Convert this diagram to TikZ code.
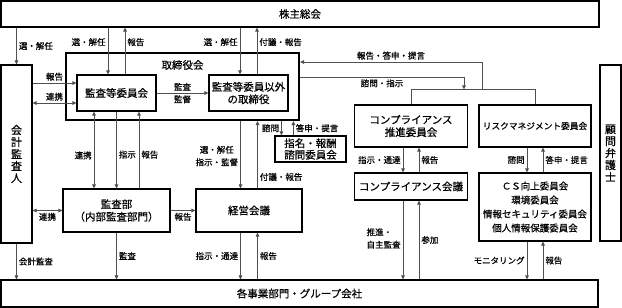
\documentclass[tikz,border=0pt]{standalone}
\usepackage{fontspec}
\setmainfont{Noto Sans CJK JP}[FakeBold=0.6]
\usetikzlibrary{calc,arrows.meta}
\definecolor{lineGray}{RGB}{80,80,80}
\newcommand{\BoxFont}{\fontsize{10.5}{12.5}\selectfont}
\newcommand{\TagFont}{\fontsize{8.5}{12.5}\selectfont}
\newcommand{\VertFont}{\fontsize{11}{12}\selectfont}
\tikzset{
  orgBox/.style={draw=black,line width=1.2pt,fill=white,inner sep=1pt,align=center,font=\BoxFont},
  tagText/.style={inner sep=2pt,font=\TagFont},
  plainLink/.style={draw=lineGray,line width=0.8pt},
  link/.style={plainLink,arrows={-Triangle[length=4pt,width=3.6pt]}},
  linkBoth/.style={plainLink,arrows={Triangle[length=4pt,width=3.6pt]-Triangle[length=4pt,width=3.6pt]}}
}

\begin{document}
\begin{tikzpicture}[x=1pt,y=-1pt]
\useasboundingbox (0,0) rectangle (622,308);
% outer boxes
\node[orgBox,minimum width=598pt,minimum height=26pt] (soukai) at (300,14) {株主総会};
\node[orgBox,minimum width=597pt,minimum height=27pt] (jigyo) at (299.5,293.5) {各事業部門・グループ会社};
\node[orgBox,minimum width=31pt,minimum height=178pt,font=\VertFont] (kaikei) at (16.5,154) {会\\計\\監\\査\\人};
\node[orgBox,minimum width=21pt,minimum height=176pt,font=\VertFont] (komon) at (610.5,153) {顧\\問\\弁\\護\\士};
% board
\node[orgBox,line width=2pt,minimum width=233pt,minimum height=67pt,
  label={[font=\BoxFont,anchor=center,yshift=-13pt]north:取締役会}] (torishimari) at (182.5,86.5) {};
\node[orgBox,minimum width=79pt,minimum height=36pt] (kansaiin) at (116.5,93) {監査等委員会};
\node[orgBox,minimum width=79pt,minimum height=36pt] (igai) at (248.5,93) {監査等委員以外\\の取締役};
\node[orgBox,minimum width=107pt,minimum height=43pt] (kansabu) at (116.5,210.5) {監査部\\（内部監査部門）};
\node[orgBox,minimum width=106pt,minimum height=43pt] (keiei) at (249,210.5) {経営会議};
\node[orgBox,minimum width=71pt,minimum height=26pt,font=\fontsize{10.5}{11.5}\selectfont] (shimei) at (310.5,149) {指名・報酬\\諮問委員会};
% committees
\node[orgBox,minimum width=113pt,minimum height=42pt] (suishin) at (411,126) {コンプライアンス\\推進委員会};
\node[orgBox,minimum width=112pt,minimum height=42pt,font=\fontsize{8.7}{12}\selectfont] (risk) at (535,126) {リスクマネジメント委員会};
\node[orgBox,minimum width=113pt,minimum height=27pt] (compkaigi) at (411,186.5) {コンプライアンス会議};
\node[orgBox,minimum width=112pt,minimum height=68pt,font=\fontsize{9.5}{14}\selectfont] (cs) at (535,207) {ＣＳ向上委員会\\環境委員会\\情報セキュリティ委員会\\個人情報保護委員会};

% shareholders meeting
\draw[link] (kaikei.north |- soukai.south) -- node[tagText,right]{選・解任} (kaikei.north);
\draw[link] ([xshift=-8.5pt]kansaiin.north |- soukai.south) -- node[tagText,left,pos=0.31]{選・解任} ([xshift=-8.5pt]kansaiin.north);
\draw[link] ([xshift=8.5pt]kansaiin.north) -- node[tagText,right,pos=0.69]{報告} ([xshift=8.5pt]kansaiin.north |- soukai.south);
\draw[link] ([xshift=-8.5pt]igai.north |- soukai.south) -- node[tagText,left,pos=0.31]{選・解任} ([xshift=-8.5pt]igai.north);
\draw[link] ([xshift=8.5pt]igai.north) -- node[tagText,right,pos=0.69]{付議・報告} ([xshift=8.5pt]igai.north |- soukai.south);

% auditor and audit committee
\draw[link] ([yshift=10pt]kaikei.east |- kansaiin.west) -- node[tagText,above]{報告} ([yshift=10pt]kansaiin.west);
\draw[linkBoth] ([yshift=-10pt]kaikei.east |- kansaiin.west) -- node[tagText,above]{連携} ([yshift=-10pt]kansaiin.west);
\draw[link] (kansaiin) -- node[tagText,above]{監査} node[tagText,below]{監督} (igai);

% audit dept
\draw[linkBoth] ([xshift=-22.5pt]kansaiin.south) -- node[tagText,left,pos=0.57]{連携} ([xshift=-22.5pt]kansabu.north);
\draw[link] (kansaiin.south) -- node[tagText,right,pos=0.56]{指示} (kansabu.north);
\draw[link] ([xshift=22.5pt]kansabu.north) -- node[tagText,right,pos=0.44]{報告} ([xshift=22.5pt]kansaiin.south);
\draw[linkBoth] (kaikei.east |- kansabu.west) -- node[tagText,below]{連携} (kansabu.west);
\draw[link] (kansabu) -- node[tagText,below]{報告} (keiei);

% management meeting
\draw[link] ([xshift=-8.5pt]keiei.north |- torishimari.south) -- node[tagText,left,align=center,pos=0.52]{選・解任\\指示・監督} ([xshift=-8.5pt]keiei.north);
\draw[link] ([xshift=8.5pt]keiei.north) -- node[tagText,right,pos=0.17]{付議・報告} ([xshift=8.5pt]keiei.north |- torishimari.south);

% nomination committee
\draw[link] ([xshift=7pt]shimei.north west |- torishimari.south) -- node[tagText,left]{諮問} ([xshift=7pt]shimei.north west);
\draw[link] ([xshift=19pt]shimei.north west) -- node[tagText,right]{答申・提言} ([xshift=19pt]shimei.north west |- torishimari.south);

% compliance and risk
\coordinate (joinL) at ([yshift=15pt]suishin.north);
\coordinate (joinR) at ([yshift=15pt]risk.north);
\coordinate (joinMid) at ($(joinL)!0.5!(joinR)$);
\draw[plainLink] (suishin.north) -- (joinL) -- (joinR) -- (risk.north);
\draw[link] ([xshift=9pt]joinMid) |- node[tagText,above,pos=0.75]{報告・答申・提言} ([yshift=24.5pt]torishimari.east);
\draw[link] ([yshift=9.5pt]torishimari.east) -| node[tagText,below,pos=0.25]{諮問・指示} ([xshift=-9pt]joinMid);
\draw[link] ([xshift=-8pt]suishin.south) -- node[tagText,left]{指示・通達} ([xshift=-8pt]compkaigi.north);
\draw[link] ([xshift=8pt]compkaigi.north) -- node[tagText,right]{報告} ([xshift=8pt]suishin.south);
\draw[link] ([xshift=-8pt]risk.south) -- node[tagText,left]{諮問} ([xshift=-8pt]cs.north);
\draw[link] ([xshift=8pt]cs.north) -- node[tagText,right]{答申・提言} ([xshift=8pt]risk.south);

% business units
\draw[link] (kaikei.south) -- node[tagText,right]{会計監査} (kaikei.south |- jigyo.north);
\draw[link] (kansabu.south) -- node[tagText,right]{監査} (kansabu.south |- jigyo.north);
\draw[link] ([xshift=-8.5pt]keiei.south) -- node[tagText,left]{指示・通達} ([xshift=-8.5pt]keiei.south |- jigyo.north);
\draw[link] ([xshift=8.5pt]keiei.south |- jigyo.north) -- node[tagText,right]{報告} ([xshift=8.5pt]keiei.south);
\draw[link] ([xshift=-8pt]compkaigi.south) -- node[tagText,left,align=left,pos=0.48]{推進・\\自主監査} ([xshift=-8pt]compkaigi.south |- jigyo.north);
\draw[link] ([xshift=8pt]compkaigi.south |- jigyo.north) -- node[tagText,right]{参加} ([xshift=8pt]compkaigi.south);
\draw[link] ([xshift=-8pt]cs.south) -- node[tagText,left]{モニタリング} ([xshift=-8pt]cs.south |- jigyo.north);
\draw[link] ([xshift=8pt]cs.south |- jigyo.north) -- node[tagText,right]{報告} ([xshift=8pt]cs.south);
\end{tikzpicture}
\end{document}
